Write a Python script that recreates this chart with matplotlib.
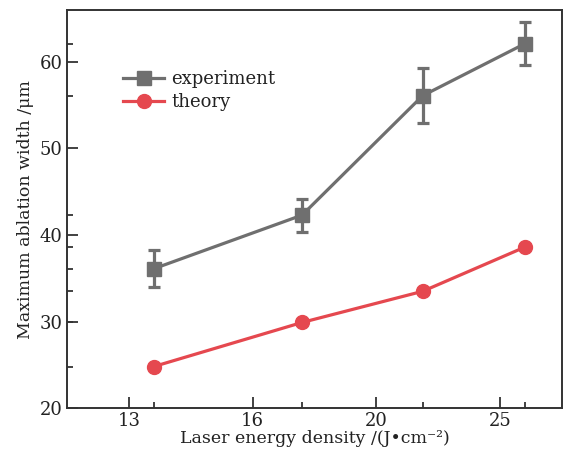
import numpy as np
import matplotlib.pyplot as plt
from matplotlib.lines import Line2D

# x in axis units; major ticks carry the printed labels
fluence = [13.8, 18.6, 22.5, 25.8]
tick_pos = [13, 17, 21, 25]
tick_labels = ['13', '16', '20', '25']

experiment = [36.1, 42.3, 56.1, 62.1]
experiment_err = [2.15, 1.9, 3.2, 2.5]
theory = [24.8, 29.9, 33.5, 38.6]

GRAY = '#6f6f6f'
RED = '#e5484f'


def main():
    plt.rcParams['font.family'] = 'DejaVu Serif'

    fig = plt.figure(figsize=(5.63, 4.54), dpi=100)
    ax = fig.add_axes([0.119, 0.101, 0.879, 0.877])

    ax.errorbar(fluence, experiment, yerr=experiment_err, color=GRAY, lw=2.3,
                marker='s', ms=9.5, capsize=4.5, capthick=2.3, elinewidth=2.3,
                zorder=3)
    ax.plot(fluence, theory, color=RED, lw=2.3, marker='o', ms=10, zorder=3)

    ax.set_xlim(11, 27)
    ax.set_ylim(20, 66)
    ax.set_xticks(tick_pos, labels=tick_labels)
    ax.set_yticks([20, 30, 40, 50, 60])
    ax.set_xticks(fluence, minor=True)
    ax.set_yticks(experiment + theory, minor=True)

    ax.tick_params(which='major', direction='in', length=8, width=1.3,
                   labelsize=13, colors='#333333', labelcolor='#222222', pad=3)
    ax.tick_params(which='minor', direction='in', length=4.5, width=1.3,
                   colors='#333333')
    for s in ax.spines.values():
        s.set_linewidth(1.4)
        s.set_color('#333333')

    ax.set_xlabel('Laser energy density /(J\u2022cm\u207b\u00b2)', fontsize=12.5,
                  color='#222222', labelpad=0)
    ax.set_ylabel('Maximum ablation width /\u03bcm', fontsize=12.5,
                  color='#222222', labelpad=4)

    handles = [
        Line2D([], [], color=GRAY, lw=2.3, marker='s', ms=9.5),
        Line2D([], [], color=RED, lw=2.3, marker='o', ms=10),
    ]
    leg = ax.legend(handles, ['experiment', 'theory'], loc='upper left',
                    bbox_to_anchor=(0.08, 0.89), frameon=False,
                    fontsize=13, handlelength=2.3, handletextpad=0.4,
                    labelspacing=0.3)
    for t in leg.get_texts():
        t.set_color('#222222')

    fig.savefig('out.png', dpi=100)


if __name__ == '__main__':
    main()
